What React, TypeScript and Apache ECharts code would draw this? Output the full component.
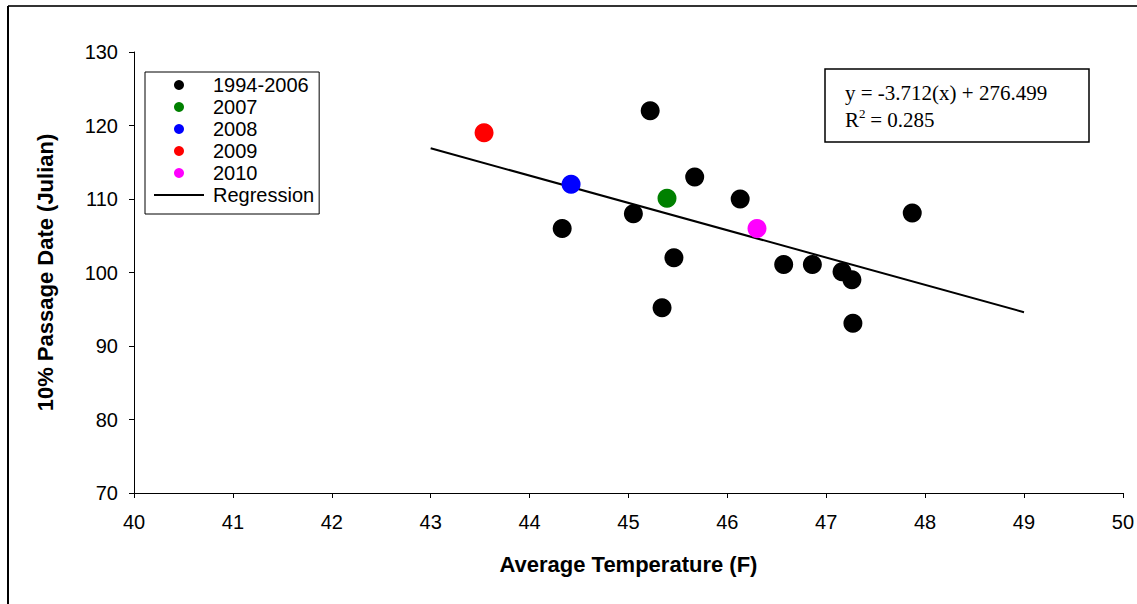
import React, { useEffect, useRef } from "react";
import * as echarts from "echarts";

const seriesNames = ["1994-2006", "2007", "2008", "2009", "2010"];
const seriesColors = ["#000000", "#008000", "#0000ff", "#ff0000", "#ff00ff"];

const pts1994_2006: [number, number][] = [
  [45.22, 122],
  [45.67, 113],
  [46.13, 110],
  [45.05, 108],
  [44.33, 106],
  [45.46, 102],
  [45.34, 95.2],
  [46.57, 101.1],
  [46.86, 101.1],
  [47.16, 100.1],
  [47.26, 99],
  [47.27, 93.1],
  [47.87, 108.1],
];
const pts2007: [number, number][] = [[45.39, 110.1]];
const pts2008: [number, number][] = [[44.42, 112]];
const pts2009: [number, number][] = [[43.54, 119]];
const pts2010: [number, number][] = [[46.3, 106]];
const regression: [number, number][] = [
  [43, 116.9],
  [49, 94.6],
];

const equationText = "y = -3.712(x) + 276.499";
const r2Text = " = 0.285";

export default function App() {
  const ref = useRef<HTMLDivElement>(null);
  useEffect(() => {
    if (!ref.current) return;
    const chart = echarts.init(ref.current, undefined, { renderer: "svg" });
    const allPts = [pts1994_2006, pts2007, pts2008, pts2009, pts2010];
    const sans = "Liberation Sans, Arial, sans-serif";
    const serif = "Liberation Serif, Times New Roman, serif";
    chart.setOption({
      animation: false,
      backgroundColor: "#ffffff",
      grid: { left: 134, right: 13, top: 52, bottom: 111, containLabel: false },
      xAxis: {
        type: "value",
        min: 40,
        max: 50,
        interval: 1,
        name: "Average Temperature (F)",
        nameLocation: "middle",
        nameGap: 60,
        nameTextStyle: { fontFamily: sans, fontSize: 22, fontWeight: "bold", color: "#000" },
        axisLine: { lineStyle: { color: "#000", width: 1 } },
        axisTick: { show: true, length: 5, lineStyle: { color: "#000" } },
        axisLabel: { fontFamily: sans, fontSize: 20, color: "#000", margin: 19 },
        splitLine: { show: false },
      },
      yAxis: {
        type: "value",
        min: 70,
        max: 130,
        interval: 10,
        name: "10% Passage Date (Julian)",
        nameLocation: "middle",
        nameGap: 78,
        nameTextStyle: { fontFamily: sans, fontSize: 22, fontWeight: "bold", color: "#000" },
        axisLine: { show: true, lineStyle: { color: "#000", width: 1 } },
        axisTick: { show: true, length: 5, lineStyle: { color: "#000" } },
        axisLabel: { fontFamily: sans, fontSize: 20, color: "#000", margin: 16 },
        splitLine: { show: false },
      },
      legend: {
        orient: "vertical",
        left: 145,
        top: 72,
        padding: [3, 5, 9, 9],
        itemWidth: 50,
        itemHeight: 10,
        itemGap: 2,
        borderColor: "#000",
        borderWidth: 1,
        backgroundColor: "#fff",
        textStyle: { fontFamily: sans, fontSize: 20, color: "#000", padding: [0, 0, 0, 4] },
        data: [
          ...seriesNames.map((n) => ({ name: n, icon: "circle" })),
          { name: "Regression", icon: "path://M0,0 L25,0 L25,1 L0,1 Z" },
        ],
      },
      graphic: [
        { type: "line", shape: { x1: 8, y1: 6, x2: 1137, y2: 6 }, style: { stroke: "#333", lineWidth: 2 } },
        { type: "line", shape: { x1: 8, y1: 6, x2: 8, y2: 604 }, style: { stroke: "#000", lineWidth: 2 } },
        {
          type: "rect",
          shape: { x: 825, y: 69, width: 264, height: 73 },
          style: { fill: "#fff", stroke: "#000", lineWidth: 1.5 },
        },
        {
          type: "text",
          x: 845,
          y: 93,
          style: { text: equationText, font: `21px ${serif}`, fill: "#000", verticalAlign: "middle" },
        },
        {
          type: "text",
          x: 845,
          y: 120,
          style: { text: "R", font: `21px ${serif}`, fill: "#000", verticalAlign: "middle" },
        },
        {
          type: "text",
          x: 859,
          y: 113,
          style: { text: "2", font: `13px ${serif}`, fill: "#000", verticalAlign: "middle" },
        },
        {
          type: "text",
          x: 865,
          y: 120,
          style: { text: r2Text, font: `21px ${serif}`, fill: "#000", verticalAlign: "middle" },
        },
      ],
      series: [
        ...seriesNames.map((n, i) => ({
          name: n,
          type: "scatter",
          data: allPts[i],
          symbol: "circle",
          symbolSize: 19,
          itemStyle: { color: seriesColors[i], opacity: 1 },
          z: 3,
        })),
        {
          name: "Regression",
          type: "line",
          data: regression,
          symbol: "none",
          showSymbol: false,
          lineStyle: { color: "#000", width: 2 },
          itemStyle: { color: "#000" },
          z: 2,
        },
      ],
    });
    return () => chart.dispose();
  }, []);
  return (
    <div
      ref={ref}
      style={{ position: "fixed", left: 0, top: 0, width: 1137, height: 604, background: "#fff" }}
    />
  );
}
